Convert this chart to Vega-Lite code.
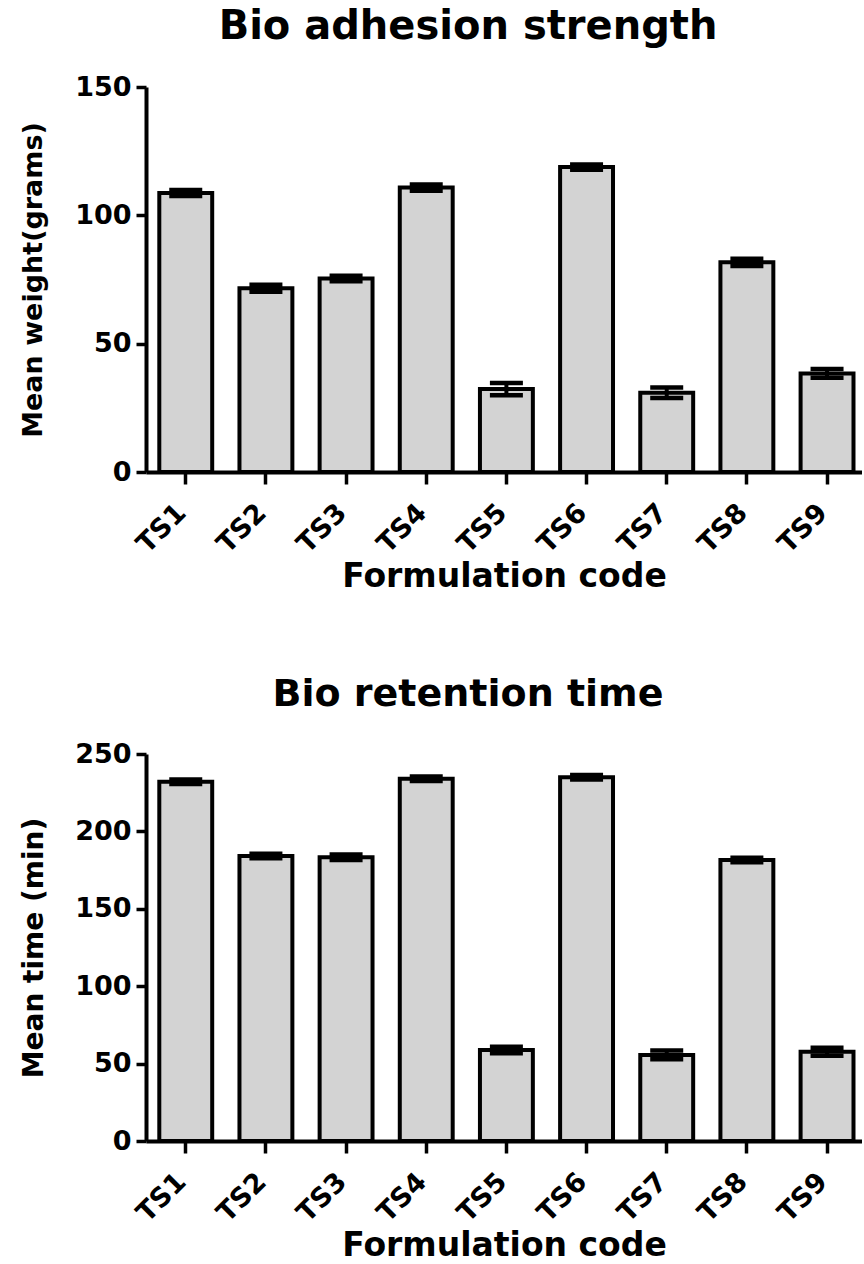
{
  "$schema": "https://vega.github.io/schema/vega-lite/v6.json",
  "autosize": {"type": "pad"},
  "padding": {"left": 19, "top": 7, "right": 0, "bottom": 0},
  "background": "white",
  "config": {
    "font": "DejaVu Sans",
    "view": {"stroke": null},
    "axis": {
      "domainColor": "black", "domainWidth": 4, "tickColor": "black", "tickWidth": 3.5,
      "labelColor": "black", "titleColor": "black", "labelFont": "DejaVu Sans", "titleFont": "DejaVu Sans",
      "labelFontWeight": "bold", "titleFontWeight": "bold", "grid": false
    },
    "title": {"fontSize": 38, "fontWeight": "bold", "color": "black", "font": "DejaVu Sans", "anchor": "middle", "dx": -36, "offset": 26}
  },
  "spacing": 82,
  "vconcat": [
    {
      "title": {"text": "Bio adhesion strength", "fontSize": 40},
      "width": 716, "height": 385,
      "data": {"values": [
        {"code": "TS1", "mean": 108.7, "lo": 107.5, "hi": 109.9},
        {"code": "TS2", "mean": 71.6, "lo": 70.2, "hi": 73.0},
        {"code": "TS3", "mean": 75.4, "lo": 74.3, "hi": 76.5},
        {"code": "TS4", "mean": 110.8, "lo": 109.6, "hi": 112.0},
        {"code": "TS5", "mean": 32.3, "lo": 29.9, "hi": 34.7},
        {"code": "TS6", "mean": 118.8, "lo": 117.8, "hi": 119.8},
        {"code": "TS7", "mean": 30.9, "lo": 28.8, "hi": 32.9},
        {"code": "TS8", "mean": 81.7, "lo": 80.3, "hi": 83.1},
        {"code": "TS9", "mean": 38.4, "lo": 36.7, "hi": 40.1}
      ]},
      "encoding": {
        "x": {"field": "code", "type": "nominal", "sort": null,
          "scale": {"paddingInner": 0.34, "paddingOuter": 0.136, "align": 0.61},
          "axis": {"title": "Formulation code", "labelAngle": -45, "labelFontSize": 27, "titleFontSize": 33, "tickSize": 12, "labelPadding": 15, "labelOffset": -13, "titlePadding": 3}}
      },
      "layer": [
        {"mark": {"type": "bar", "fill": "#d3d3d3", "stroke": "black", "strokeWidth": 4},
         "encoding": {"y": {"field": "mean", "type": "quantitative", "scale": {"domain": [0, 150], "nice": false},
           "axis": {"title": "Mean weight(grams)", "values": [0, 50, 100, 150], "labelFontSize": 27, "titleFontSize": 27, "tickSize": 10, "labelPadding": 5, "titlePadding": 27}}}},
        {"mark": {"type": "rule", "strokeWidth": 4, "color": "black"},
         "encoding": {"y": {"field": "lo", "type": "quantitative"}, "y2": {"field": "hi"}}},
        {"mark": {"type": "tick", "orient": "horizontal", "size": 33, "thickness": 4.5, "color": "black", "opacity": 1},
         "encoding": {"y": {"field": "lo", "type": "quantitative"}}},
        {"mark": {"type": "tick", "orient": "horizontal", "size": 33, "thickness": 4.5, "color": "black", "opacity": 1},
         "encoding": {"y": {"field": "hi", "type": "quantitative"}}}
      ]
    },
    {
      "title": {"text": "Bio retention time"},
      "width": 716, "height": 387,
      "data": {"values": [
        {"code": "TS1", "mean": 232.1, "lo": 230.6, "hi": 233.6},
        {"code": "TS2", "mean": 184.1, "lo": 182.6, "hi": 185.6},
        {"code": "TS3", "mean": 183.3, "lo": 181.6, "hi": 185.0},
        {"code": "TS4", "mean": 234.0, "lo": 232.5, "hi": 235.5},
        {"code": "TS5", "mean": 58.8, "lo": 56.7, "hi": 60.9},
        {"code": "TS6", "mean": 235.0, "lo": 233.5, "hi": 236.5},
        {"code": "TS7", "mean": 55.6, "lo": 52.8, "hi": 58.4},
        {"code": "TS8", "mean": 181.5, "lo": 180.0, "hi": 183.0},
        {"code": "TS9", "mean": 57.7, "lo": 55.1, "hi": 60.3}
      ]},
      "encoding": {
        "x": {"field": "code", "type": "nominal", "sort": null,
          "scale": {"paddingInner": 0.34, "paddingOuter": 0.136, "align": 0.61},
          "axis": {"title": "Formulation code", "labelAngle": -45, "labelFontSize": 27, "titleFontSize": 33, "tickSize": 12, "labelPadding": 15, "labelOffset": -13, "titlePadding": 3}}
      },
      "layer": [
        {"mark": {"type": "bar", "fill": "#d3d3d3", "stroke": "black", "strokeWidth": 4},
         "encoding": {"y": {"field": "mean", "type": "quantitative", "scale": {"domain": [0, 250], "nice": false},
           "axis": {"title": "Mean time (min)", "values": [0, 50, 100, 150, 200, 250], "labelFontSize": 27, "titleFontSize": 28, "tickSize": 10, "labelPadding": 5, "titlePadding": 26}}}},
        {"mark": {"type": "rule", "strokeWidth": 4, "color": "black"},
         "encoding": {"y": {"field": "lo", "type": "quantitative"}, "y2": {"field": "hi"}}},
        {"mark": {"type": "tick", "orient": "horizontal", "size": 33, "thickness": 4.5, "color": "black", "opacity": 1},
         "encoding": {"y": {"field": "lo", "type": "quantitative"}}},
        {"mark": {"type": "tick", "orient": "horizontal", "size": 33, "thickness": 4.5, "color": "black", "opacity": 1},
         "encoding": {"y": {"field": "hi", "type": "quantitative"}}}
      ]
    }
  ]
}
